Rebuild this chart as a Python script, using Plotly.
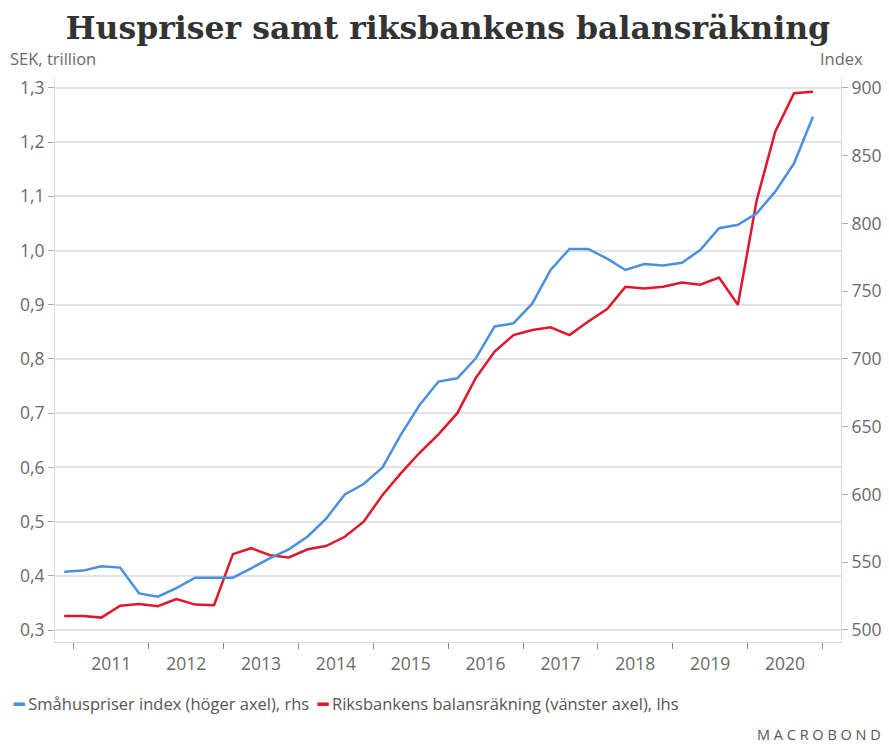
import plotly.graph_objects as go

# Quarterly observations (mid-quarter), 2010 Q4 – 2020 Q4
dates = [f"{y}-{m:02d}-15" for y in range(2010, 2021) for m in (2, 5, 8, 11)][3:]

house_index = [543, 543.8, 547, 546, 527, 524.5, 530.8, 538.6, 538.6, 538.6,
               545.5, 553, 559.5, 569, 582, 600, 607.7, 620, 644, 666,
               683.3, 685.7, 700.5, 724, 726.3, 741, 765.7, 781.2, 781.2, 774,
               765.7, 770, 769, 771, 780.4, 796.5, 799, 807.5, 823.5, 844.4,
               878.8]

riksbank_balance = [0.326, 0.326, 0.323, 0.345, 0.348, 0.344, 0.357, 0.347, 0.346, 0.440,
                    0.451, 0.438, 0.434, 0.449, 0.455, 0.472, 0.500, 0.549, 0.589, 0.627,
                    0.661, 0.700, 0.765, 0.8135, 0.844, 0.8535, 0.8585, 0.844, 0.869, 0.892,
                    0.933, 0.930, 0.933, 0.941, 0.937, 0.950, 0.900, 1.093, 1.219, 1.290,
                    1.293]

left_ticks = [0.3, 0.4, 0.5, 0.6, 0.7, 0.8, 0.9, 1.0, 1.1, 1.2, 1.3]
left_ticktext = ["0,3", "0,4", "0,5", "0,6", "0,7", "0,8", "0,9", "1,0", "1,1", "1,2", "1,3"]
right_ticks = [500, 550, 600, 650, 700, 750, 800, 850, 900]

name_house = "Småhuspriser index (höger axel), rhs"
name_bank = "Riksbankens balansräkning (vänster axel), lhs"

BLUE = "#4A90E2"
RED = "#E0162B"
FONT = "Open Sans, Noto Sans, sans-serif"
TICKFONT = dict(family=FONT, size=17.5, color="#6a6a6a")

fig = go.Figure()
fig.add_trace(go.Scatter(x=dates, y=house_index, mode="lines", yaxis="y2",
                         name=name_house, line=dict(color=BLUE, width=2.5)))
fig.add_trace(go.Scatter(x=dates, y=riksbank_balance, mode="lines", yaxis="y",
                         name=name_bank, line=dict(color=RED, width=2.5)))

fig.update_layout(
    width=889, height=744,
    margin=dict(l=55, r=48, t=77, b=102, autoexpand=False),
    plot_bgcolor="white", paper_bgcolor="white",
    showlegend=False,
    title=dict(text="<b>Huspriser samt riksbankens balansräkning</b>",
               font=dict(family="DejaVu Serif, serif", size=31.5, color="#333333"),
               x=0.5, xanchor="center", xref="paper", y=0.963, yanchor="middle", yref="container",
               automargin=False),
    xaxis=dict(type="date", range=["2010-10-01", "2021-04-01"], automargin=False,
               tick0="2011-01-01", dtick="M12", tickformat="%Y", ticklabelmode="period",
               ticks="outside", ticklen=6, tickcolor="#888", tickwidth=1,
               showgrid=False, showline=True, linecolor="#dcdcdc", linewidth=1,
               tickfont=TICKFONT, zeroline=False),
    yaxis=dict(range=[0.278, 1.320], tickvals=left_ticks, ticktext=left_ticktext,
               automargin=False, ticks="outside", ticklen=6, tickcolor="#aaa",
               showgrid=True, gridcolor="#e4e4e4", gridwidth=1.5,
               showline=True, linecolor="#dcdcdc", zeroline=False,
               tickfont=TICKFONT),
    yaxis2=dict(range=[491.1, 908.1], tickvals=right_ticks, overlaying="y", side="right",
                automargin=False, ticks="outside", ticklen=6, tickcolor="#aaa",
                showgrid=False, showline=True, linecolor="#dcdcdc", zeroline=False,
                tickfont=TICKFONT),
)

fig.add_annotation(text="SEK, trillion", xref="paper", yref="paper", x=-0.060, y=1.032,
                   xanchor="left", yanchor="middle", showarrow=False,
                   font=dict(family=FONT, size=16.5, color="#6a6a6a"))
fig.add_annotation(text="Index", xref="paper", yref="paper", x=1.030, y=1.032,
                   xanchor="right", yanchor="middle", showarrow=False,
                   font=dict(family=FONT, size=16.5, color="#6a6a6a"))

legend_text = (f"<span style='color:{BLUE}'><b>━</b></span> {name_house}"
               f"  <span style='color:{RED}'><b>━</b></span> {name_bank}")
fig.add_annotation(text=legend_text, xref="paper", yref="paper", x=-0.056, y=-0.108,
                   xanchor="left", yanchor="middle", showarrow=False,
                   font=dict(family=FONT, size=16.5, color="#555555"))

fig.add_annotation(text="M A C R O B O N D", xref="paper", yref="paper",
                   x=1.054, y=-0.163, xanchor="right", yanchor="middle", showarrow=False,
                   font=dict(family=FONT, size=14.5, color="#555555"))

fig.write_html("out.html", post_script="document.body.style.margin='0';",
               config={"displayModeBar": False})
